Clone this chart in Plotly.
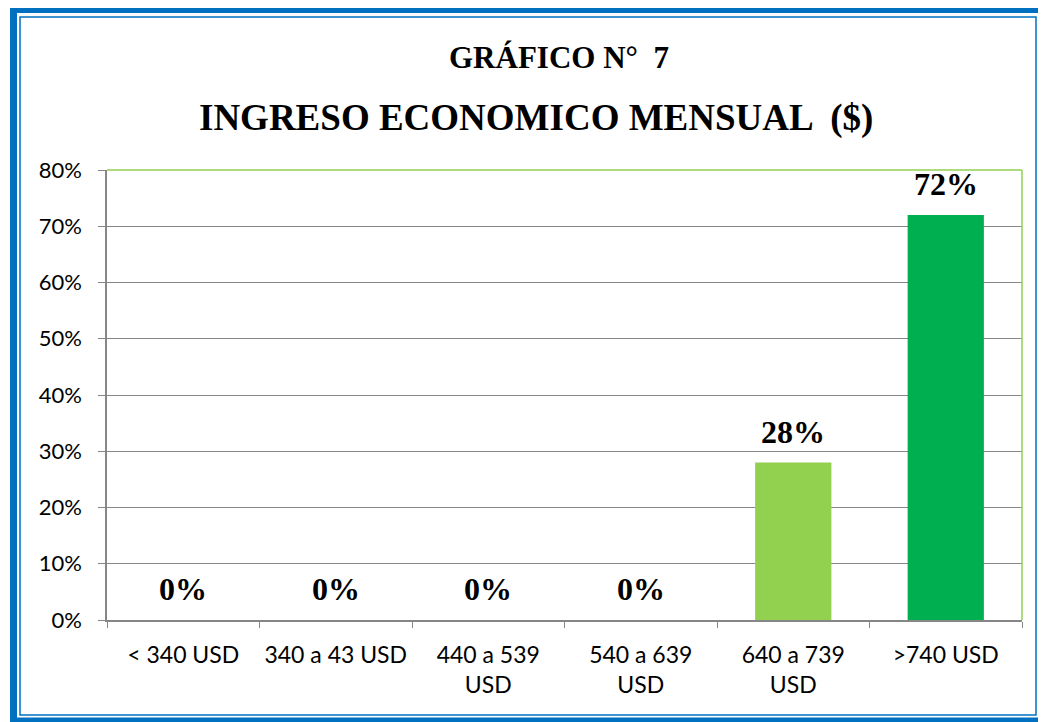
import plotly.graph_objects as go

categories = ["< 340 USD", "340 a 43 USD", "440 a 539<br>USD", "540 a 639<br>USD", "640 a 739<br>USD", ">740 USD"]
values = [0, 0, 0, 0, 0.28, 0.72]
labels = ["0%", "0%", "0%", "0%", "28%", "72%"]
colors = ["#92D050", "#92D050", "#92D050", "#92D050", "#92D050", "#00B050"]
y_ticks = [0, 0.1, 0.2, 0.3, 0.4, 0.5, 0.6, 0.7, 0.8]
y_tick_text = ["0%", "10%", "20%", "30%", "40%", "50%", "60%", "70%", "80%"]

OFF = 8  # page body margin
W, H = 1046 - OFF, 722 - OFF
# plot area in page pixels
PL, PR, PT, PB = 107, 1022, 170, 620
L, R, T, B = PL - OFF, PR - OFF, PT - OFF, PB - OFF
pw, ph = R - L, B - T

def px(x):  # page x -> paper
    return (x - PL) / pw

def py(y):  # page y -> paper
    return (PB - y) / ph

fig = go.Figure()
fig.add_trace(go.Bar(
    x=categories, y=values, marker=dict(color=colors, line=dict(width=0)),
    width=0.5, hoverinfo="skip",
))

annotations = [
    dict(text="<b>GRÁFICO N°  7</b>", xref="paper", yref="paper", x=px(559), y=py(58),
         showarrow=False, font=dict(family="Liberation Serif", size=31, color="black"),
         xanchor="center", yanchor="middle"),
    dict(text="<b>INGRESO ECONOMICO MENSUAL  ($)</b>", xref="paper", yref="paper", x=px(536), y=py(118),
         showarrow=False, font=dict(family="Liberation Serif", size=37, color="black"),
         xanchor="center", yanchor="middle"),
]
for c, v, t in zip(categories, values, labels):
    annotations.append(dict(
        text="<b>" + t + "</b>", x=c, y=v, xref="x", yref="y", showarrow=False,
        yanchor="middle", xanchor="center", yshift=31,
        font=dict(family="Liberation Serif", size=32, color="black"),
    ))

shapes = [
    dict(type="rect", xref="paper", yref="paper", x0=px(13.5), x1=px(1046), y0=py(9.5), y1=py(721),
         line=dict(color="#0070C0", width=7), fillcolor="rgba(0,0,0,0)", layer="below"),
    dict(type="rect", xref="paper", yref="paper", x0=px(20), x1=px(1036), y0=py(17), y1=py(715),
         line=dict(color="#0070C0", width=1.5), fillcolor="rgba(0,0,0,0)", layer="below"),
    dict(type="line", xref="paper", yref="paper", x0=0, x1=1, y0=1, y1=1,
         line=dict(color="#92D050", width=1.5)),
    dict(type="line", xref="paper", yref="paper", x0=1, x1=1, y0=0, y1=1,
         line=dict(color="#92D050", width=1.5)),
]

fig.update_layout(
    width=W, height=H,
    margin=dict(l=L, r=W - R, t=T, b=H - B, pad=0),
    paper_bgcolor="white", plot_bgcolor="white",
    showlegend=False,
    shapes=shapes, annotations=annotations,
)
fig.update_yaxes(
    range=[0, 0.8], tickvals=y_ticks, ticktext=y_tick_text,
    showgrid=True, gridcolor="#868686", gridwidth=1,
    showline=True, linecolor="#868686", linewidth=1.5,
    ticks="outside", ticklen=7, tickcolor="#868686", ticklabelstandoff=12,
    tickfont=dict(family="Lato", size=22, color="black"), zeroline=False,
)
fig.update_xaxes(
    showline=True, linecolor="#868686", linewidth=1.5,
    ticks="outside", ticklen=6, tickcolor="#868686", tickson="boundaries",
    ticklabelstandoff=14,
    tickfont=dict(family="Lato", size=23, color="black"),
)

fig.write_html("out.html")
